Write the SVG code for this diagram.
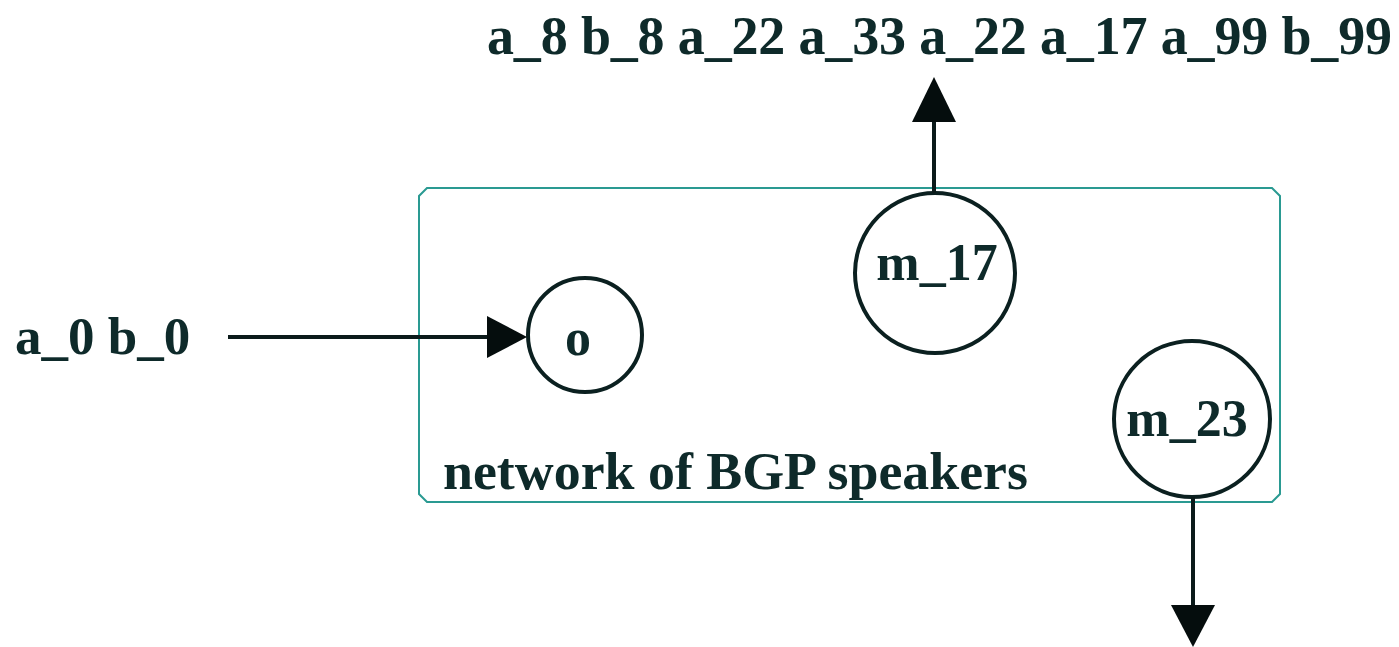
<svg xmlns="http://www.w3.org/2000/svg" width="1399" height="647" viewBox="0 0 1399 647">
<style>
.t{font-family:"Liberation Serif","Times New Roman",serif;font-weight:bold;fill:#0e2a2a}
.n{fill:none;stroke:#0b2020;stroke-width:4}
.e{stroke:#0b1a1a;stroke-width:4;fill:none}
.h{fill:#050d0d}
</style>
<rect width="1399" height="647" fill="#fff"/>
<g id="network">
<path d="M427,188 H1272 L1280,196 V494 L1272,502 H427 L419,494 V196 Z" fill="none" stroke="#2a9a92" stroke-width="2"/>
<text class="t" x="443" y="489" font-size="53.5" textLength="585" lengthAdjust="spacingAndGlyphs">network of BGP speakers</text>
</g>
<g id="node-o">
<circle class="n" cx="585" cy="335" r="57"/>
<text class="t" x="578" y="355" font-size="52" text-anchor="middle">o</text>
</g>
<g id="node-m17">
<circle class="n" cx="935" cy="273" r="80"/>
<text class="t" x="937" y="280" font-size="52" text-anchor="middle">m_17</text>
</g>
<g id="node-m23">
<circle class="n" cx="1192" cy="419" r="78"/>
<text class="t" x="1187" y="436" font-size="52" text-anchor="middle">m_23</text>
</g>
<g id="input">
<text class="t" x="15" y="354" font-size="53">a_0 b_0</text>
</g>
<g id="output-top">
<text class="t" x="487" y="54" font-size="54" textLength="905" lengthAdjust="spacing">a_8 b_8 a_22 a_33 a_22 a_17 a_99 b_99</text>
</g>
<g id="connectors">
<line class="e" x1="228" y1="337" x2="490" y2="337"/>
<polygon class="h" points="487,316 527,337 487,358"/>
<line class="e" x1="934" y1="193" x2="934" y2="120"/>
<polygon class="h" points="912,122 934,77 956,122"/>
<line class="e" x1="1193" y1="497" x2="1193" y2="607"/>
<polygon class="h" points="1171,605 1193,647 1215,605"/>
</g>
</svg>
